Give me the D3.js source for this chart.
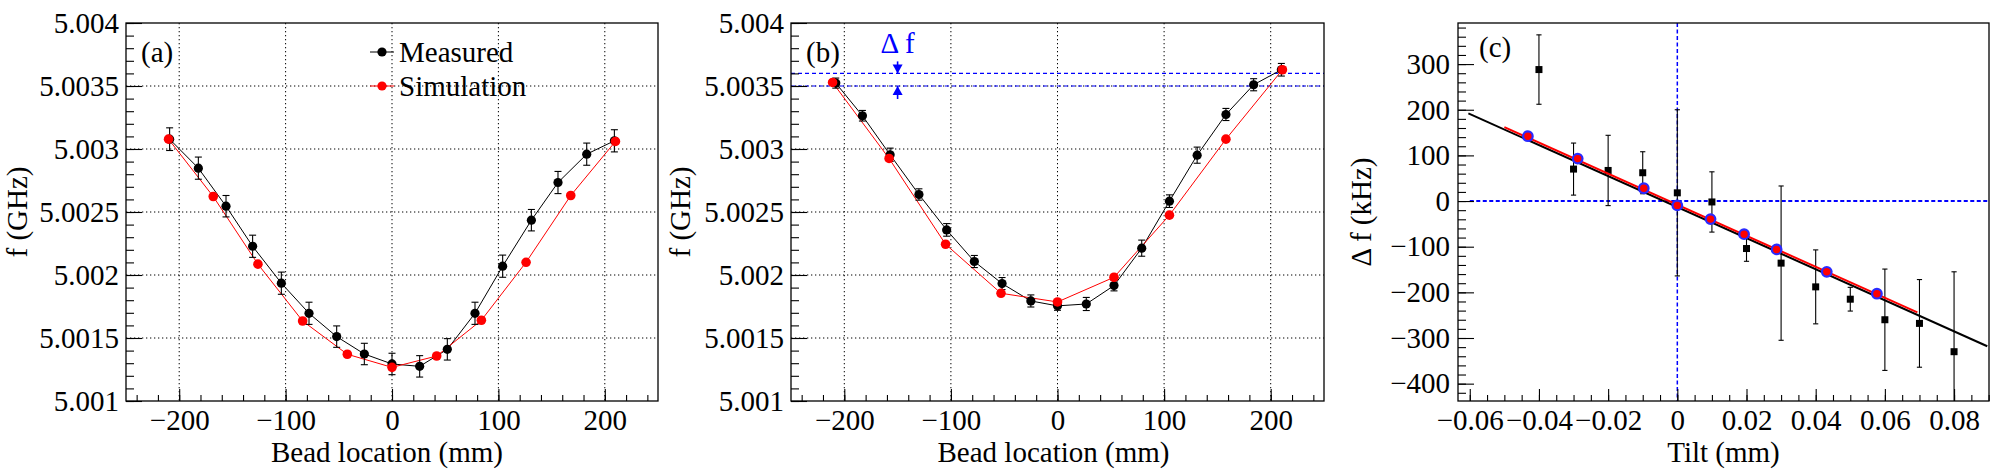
<!DOCTYPE html>
<html><head><meta charset="utf-8">
<script src="https://cdn.jsdelivr.net/npm/d3@7/dist/d3.min.js"></script>
<style>
html,body{margin:0;padding:0;background:#fff;}
</style></head>
<body>
<svg id="chart" width="1996" height="472"></svg>
<script>
// ---------- DATA ----------
// Panel (a)
const aMeasX   = [-209,-182,-156,-131,-104,-78,-52,-26,0,26,52,78,104,131,156,183,209];
const aMeasY   = [5.003078,5.002848,5.002546,5.002228,5.001935,5.001696,5.001511,5.001373,5.001294,5.001275,5.00141,5.001696,5.00207,5.002435,5.002734,5.002959,5.003065];
const aMeasErr = [0.00009,0.000088,0.000085,0.000088,0.000088,0.000088,0.000085,0.000085,0.000085,0.000085,0.000085,0.000088,0.000088,0.000085,0.000088,0.000088,0.000088];
const aSimX    = [-210,-168,-126,-84,-42,0,42,84,126,168,210];
const aSimY    = [5.003078,5.002623,5.002086,5.001635,5.001371,5.001267,5.001357,5.001641,5.002101,5.002631,5.00306];
// Panel (b)
const bMeasX   = [-208,-183,-157,-130,-104,-78,-52,-25,0,27,53,79,105,131,158,184,210];
const bMeasY   = [5.003523,5.003264,5.002954,5.002639,5.002358,5.002107,5.001932,5.001794,5.001755,5.00177,5.001916,5.002213,5.002586,5.002951,5.003274,5.00351,5.003629];
const bMeasErr = [0.00004,0.000042,0.000053,0.000045,0.00005,0.000048,0.000048,0.000048,0.000035,0.000052,0.000042,0.000064,0.00005,0.000064,0.000048,0.000048,0.00005];
const bSimX    = [-211,-158,-105,-53,0,53,105,158,211];
const bSimY    = [5.003528,5.002925,5.002244,5.001855,5.001786,5.001982,5.002475,5.003078,5.003629];
const bDeltaLevels = [5.0035,5.0036];
const bArrowX  = -150;
// Panel (c)
const cTilt    = [-0.04,-0.03,-0.02,-0.01,0,0.01,0.02,0.03,0.04,0.05,0.06,0.07,0.08];
const cDf      = [288,70,67,62,18,-2,-104,-136,-188,-215,-260,-268,-330];
const cDfErr   = [76,57,77,46,182,66,28,169,81,26,111,96,175];
const cSimTilt = [-0.0432,-0.0288,-0.0097,0,0.0096,0.0193,0.0287,0.0432,0.0577];
const cSimDf   = [142,93,28,-9.5,-39.6,-72.6,-106,-155,-203];
const cFitBlackX = [-0.0604,0.0896];
const cFitBlackY = [192,-318];
const cFitRedX   = [-0.05,0.0694];
const cFitRedY   = [162,-244];
// Ticks
const abXTicks = [-200,-100,0,100,200];
const abXMinor = d3.range(-240,241,20);
const abYTicks = [5.001,5.0015,5.002,5.0025,5.003,5.0035,5.004];
const abYLabels= ["5.001","5.0015","5.002","5.0025","5.003","5.0035","5.004"];
const abYMinor = d3.range(0,31).map(i=>5.001+i*0.0001);
const cXTicks  = [-0.06,-0.04,-0.02,0,0.02,0.04,0.06,0.08];
const cXLabels = ["\u22120.06","\u22120.04","\u22120.02","0","0.02","0.04","0.06","0.08"];
const cXMinor  = d3.range(-12,19).map(i=>i*0.005);
const cYTicks  = [-400,-300,-200,-100,0,100,200,300];
const cYLabels = ["\u2212400","\u2212300","\u2212200","\u2212100","0","100","200","300"];
const cYMinor  = d3.range(-21,20).map(i=>i*20);

// ---------- DRAW ----------
const FF = '"Liberation Serif", "DejaVu Serif", "Times New Roman", Times, serif';
const svg = d3.select("#chart").attr("font-family",FF);
const FS = 29;
const fTop = 23, fBot = 401;

function makePanel(id, x0, x1, xDomain, yDomain){
  const g = svg.append("g");
  const x = d3.scaleLinear().domain(xDomain).range([x0,x1]);
  const y = d3.scaleLinear().domain(yDomain).range([fBot,fTop]);
  svg.append("clipPath").attr("id","clip"+id).append("rect")
    .attr("x",x0).attr("y",fTop).attr("width",x1-x0).attr("height",fBot-fTop);
  const plot = g.append("g").attr("clip-path","url(#clip"+id+")");
  return {g,x,y,plot,x0,x1};
}

function axes(p, xT, xL, xM, yT, yL, yM, yPad){
  const {g,x,y,x0} = p;
  g.append("g").attr("transform",`translate(0,${fBot})`)
    .call(d3.axisBottom(x).tickValues(xM).tickSizeInner(-6).tickSizeOuter(0).tickFormat(""))
    .call(s=>s.select(".domain").remove());
  g.append("g").attr("transform",`translate(${x0},0)`)
    .call(d3.axisLeft(y).tickValues(yM).tickSizeInner(-8).tickSizeOuter(0).tickFormat(""))
    .call(s=>s.select(".domain").remove());
  g.append("g").attr("transform",`translate(0,${fBot})`)
    .call(d3.axisBottom(x).tickValues(xT).tickSizeInner(-12).tickSizeOuter(0).tickPadding(8.5)
      .tickFormat((d,i)=>xL[i]))
    .call(s=>s.select(".domain").remove());
  g.append("g").attr("transform",`translate(${x0},0)`)
    .call(d3.axisLeft(y).tickValues(yT).tickSizeInner(-16).tickSizeOuter(0).tickPadding(yPad)
      .tickFormat((d,i)=>yL[i]))
    .call(s=>s.select(".domain").remove());
  g.selectAll(".tick line").attr("stroke","#000").attr("stroke-width",1.1);
  g.selectAll(".tick text").attr("font-size",FS).attr("fill","#000");
}

function frame(p){
  p.g.append("rect").attr("x",p.x0).attr("y",fTop).attr("width",p.x1-p.x0).attr("height",fBot-fTop)
    .attr("fill","none").attr("stroke","#000").attr("stroke-width",1.3);
}

function grid(p, xT, yT){
  const {plot,x,y,x0,x1} = p;
  plot.selectAll(null).data(xT).enter().append("line")
    .attr("x1",d=>x(d)).attr("x2",d=>x(d)).attr("y1",fTop).attr("y2",fBot)
    .attr("stroke","#000").attr("stroke-width",1).attr("stroke-dasharray","1.3,2.7");
  plot.selectAll(null).data(yT).enter().append("line")
    .attr("y1",d=>y(d)).attr("y2",d=>y(d)).attr("x1",x0).attr("x2",x1)
    .attr("stroke","#000").attr("stroke-width",1).attr("stroke-dasharray","1.3,2.7");
}

function errBars(plot, x, y, xs, ys, es, cap, color){
  const d = xs.map((v,i)=>({x:v,y:ys[i],e:es[i]}));
  plot.selectAll(null).data(d).enter().append("line")
    .attr("x1",p=>x(p.x)).attr("x2",p=>x(p.x)).attr("y1",p=>y(p.y-p.e)).attr("y2",p=>y(p.y+p.e))
    .attr("stroke",color).attr("stroke-width",1.1);
  [1,-1].forEach(s=>{
    plot.selectAll(null).data(d).enter().append("line")
      .attr("x1",p=>x(p.x)-cap).attr("x2",p=>x(p.x)+cap)
      .attr("y1",p=>y(p.y+s*p.e)).attr("y2",p=>y(p.y+s*p.e))
      .attr("stroke",color).attr("stroke-width",1.1);
  });
}

function polyline(plot,x,y,xs,ys,color,w){
  plot.append("path").datum(xs.map((v,i)=>[v,ys[i]]))
    .attr("d",d3.line().x(d=>x(d[0])).y(d=>y(d[1])))
    .attr("fill","none").attr("stroke",color).attr("stroke-width",w);
}

function dots(plot,x,y,xs,ys,color,r){
  plot.selectAll(null).data(xs.map((v,i)=>[v,ys[i]])).enter().append("circle")
    .attr("cx",d=>x(d[0])).attr("cy",d=>y(d[1])).attr("r",r).attr("fill",color);
}

function xTitle(p, txt, dx){
  p.g.append("text").attr("x",(p.x0+p.x1)/2+dx).attr("y",462).attr("text-anchor","middle")
    .attr("font-size",FS).text(txt);
}
function yTitle(p, txt, bx){
  p.g.append("text").attr("transform",`translate(${bx},${(fTop+fBot)/2}) rotate(-90)`)
    .attr("text-anchor","middle").attr("font-size",FS).text(txt);
}
const fmtAB = d=>d<0?"\u2212"+(-d):String(d);

// Panel a
const pa = makePanel("a",126,658,[-250,250],[5.001,5.004]);
grid(pa, abXTicks, abYTicks.slice(1,-1));
polyline(pa.plot,pa.x,pa.y,aMeasX,aMeasY,"#000",1);
polyline(pa.plot,pa.x,pa.y,aSimX,aSimY,"#ff0000",1);
errBars(pa.plot,pa.x,pa.y,aMeasX,aMeasY,aMeasErr,3.5,"#000");
dots(pa.plot,pa.x,pa.y,aMeasX,aMeasY,"#000",4.6);
dots(pa.plot,pa.x,pa.y,aSimX,aSimY,"#ff0000",4.8);
axes(pa, abXTicks, abXTicks.map(fmtAB), abXMinor, abYTicks, abYLabels, abYMinor, 7);
frame(pa);
xTitle(pa,"Bead location (mm)",-5);
yTitle(pa,"f (GHz)",27);
pa.g.append("text").attr("x",141).attr("y",62).attr("font-size",FS).text("(a)");
const legend = [{t:"Measured",c:"#000",yy:52},{t:"Simulation",c:"#ff0000",yy:86}];
legend.forEach(l=>{
  pa.g.append("line").attr("x1",370).attr("x2",394).attr("y1",l.yy).attr("y2",l.yy).attr("stroke",l.c).attr("stroke-width",1);
  pa.g.append("circle").attr("cx",382).attr("cy",l.yy).attr("r",4.6).attr("fill",l.c);
  pa.g.append("text").attr("x",399).attr("y",l.yy+10).attr("font-size",FS).text(l.t);
});

// Panel b
const pb = makePanel("b",791,1324,[-250,250],[5.001,5.004]);
grid(pb, abXTicks, abYTicks.slice(1,-1));
pb.plot.selectAll(null).data(bDeltaLevels).enter().append("line")
  .attr("x1",pb.x0).attr("x2",pb.x1).attr("y1",d=>pb.y(d)).attr("y2",d=>pb.y(d))
  .attr("stroke","#0000ff").attr("stroke-width",1.1).attr("stroke-dasharray","4,3");
polyline(pb.plot,pb.x,pb.y,bMeasX,bMeasY,"#000",1);
polyline(pb.plot,pb.x,pb.y,bSimX,bSimY,"#ff0000",1);
errBars(pb.plot,pb.x,pb.y,bMeasX,bMeasY,bMeasErr,3.5,"#000");
dots(pb.plot,pb.x,pb.y,bMeasX,bMeasY,"#000",4.6);
dots(pb.plot,pb.x,pb.y,bSimX,bSimY,"#ff0000",4.8);
{
  const ax = pb.x(bArrowX), yHi = pb.y(bDeltaLevels[1]), yLo = pb.y(bDeltaLevels[0]);
  pb.g.append("line").attr("x1",ax).attr("x2",ax).attr("y1",yHi-12).attr("y2",yHi).attr("stroke","#0000ff").attr("stroke-width",1.6);
  pb.g.append("line").attr("x1",ax).attr("x2",ax).attr("y1",yLo).attr("y2",yLo+13).attr("stroke","#0000ff").attr("stroke-width",1.6);
  pb.g.append("path").attr("d",`M${ax-5},${yHi-9}L${ax+5},${yHi-9}L${ax},${yHi}Z`).attr("fill","#0000ff");
  pb.g.append("path").attr("d",`M${ax-5},${yLo+9}L${ax+5},${yLo+9}L${ax},${yLo}Z`).attr("fill","#0000ff");
  pb.g.append("text").attr("x",ax).attr("y",53).attr("text-anchor","middle").attr("font-size",FS)
    .attr("fill","#0000ff").text("\u0394 f");
}
axes(pb, abXTicks, abXTicks.map(fmtAB), abXMinor, abYTicks, abYLabels, abYMinor, 7);
frame(pb);
xTitle(pb,"Bead location (mm)",-4);
yTitle(pb,"f (GHz)",690);
pb.g.append("text").attr("x",806).attr("y",62).attr("font-size",FS).text("(b)");

// Panel c
const pc = makePanel("c",1458,1989,[-0.0634,0.0901],[-438,390]);
pc.plot.append("line").attr("x1",pc.x(-0.06)).attr("x2",pc.x1).attr("y1",pc.y(0)).attr("y2",pc.y(0))
  .attr("stroke","#0000ff").attr("stroke-width",2).attr("stroke-dasharray","4,2.5");
pc.plot.append("line").attr("x1",pc.x(0)).attr("x2",pc.x(0)).attr("y1",fTop).attr("y2",fBot)
  .attr("stroke","#0000ff").attr("stroke-width",1.5).attr("stroke-dasharray","4,2.5");
errBars(pc.plot,pc.x,pc.y,cTilt,cDf,cDfErr,2.6,"#000");
pc.plot.selectAll(null).data(cTilt.map((v,i)=>[v,cDf[i]])).enter().append("rect")
  .attr("x",d=>pc.x(d[0])-3.5).attr("y",d=>pc.y(d[1])-3.5).attr("width",7).attr("height",7).attr("fill","#000");
polyline(pc.plot,pc.x,pc.y,cFitBlackX,cFitBlackY,"#000",2);
polyline(pc.plot,pc.x,pc.y,cFitRedX,cFitRedY,"#ff0000",2);
pc.plot.selectAll(null).data(cSimTilt.map((v,i)=>[v,cSimDf[i]])).enter().append("circle")
  .attr("cx",d=>pc.x(d[0])).attr("cy",d=>pc.y(d[1])).attr("r",4.8)
  .attr("fill","#ff0000").attr("stroke","#2a2aff").attr("stroke-width",2.2);
axes(pc, cXTicks, cXLabels, cXMinor, cYTicks, cYLabels, cYMinor, 8);
frame(pc);
xTitle(pc,"Tilt (mm)",0);
yTitle(pc,"\u0394 f (kHz)",1371);
pc.g.append("text").attr("x",1479).attr("y",57).attr("font-size",FS).text("(c)");

// force serif font on every text (d3 axes default to sans-serif)
svg.selectAll("text").attr("font-family",FF);
</script>
</body></html>
